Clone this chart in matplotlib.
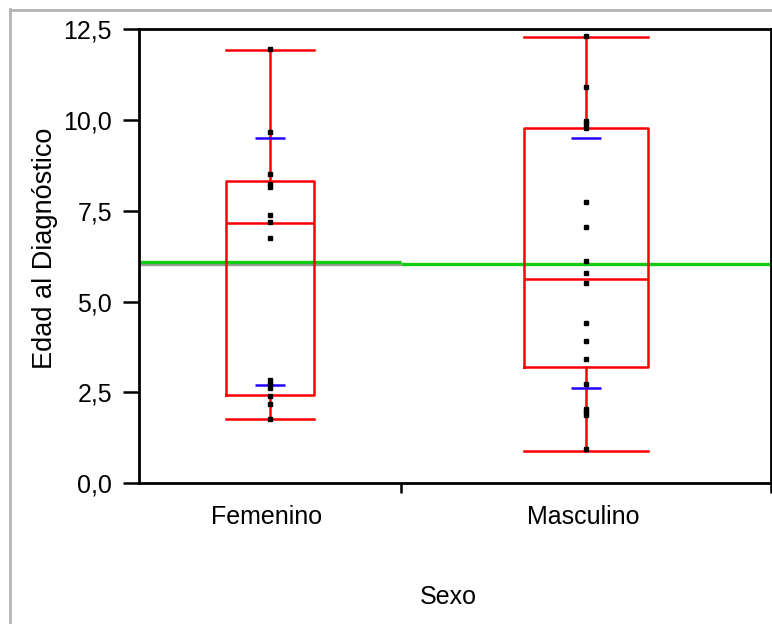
import matplotlib

matplotlib.use("Agg")
import matplotlib.pyplot as plt
from matplotlib.lines import Line2D

plt.rcParams["font.family"] = ["Liberation Sans", "DejaVu Sans"]

# valores
groups = ["Femenino", "Masculino"]
fem_values = [11.97, 9.67, 8.50, 8.25, 8.16, 7.38, 7.18, 6.75,
              2.84, 2.72, 2.61, 2.39, 2.17, 1.75]
masc_values = [12.32, 10.92, 9.97, 9.88, 9.79, 7.73, 7.04, 6.13, 5.78,
               5.51, 4.41, 3.92, 3.42, 2.73, 2.03, 1.95, 1.87, 0.93]
q1 = [2.42, 3.19]
medians = [7.16, 5.62]
q3 = [8.31, 9.78]
whisk_lo = [1.75, 0.89]
whisk_hi = [11.93, 12.28]
sd_upper = [9.51, 9.50]
sd_lower = [2.70, 2.62]
fem_mean = 6.10
grand_mean = 6.03
y_ticks = [0.0, 2.5, 5.0, 7.5, 10.0, 12.5]
y_tick_labels = ["0,0", "2,5", "5,0", "7,5", "10,0", "12,5"]

# layout: ancho de cada grupo en el eje x
group_span = [262, 370]
box_frac = 0.335
sd_width = 30

W, H = 772, 624
fig = plt.figure(figsize=(W / 100, H / 100), dpi=100)
ax = fig.add_axes([139 / W, 1 - 483 / H, 632 / W, (483 - 29.3) / H])

edges = [0, group_span[0], group_span[0] + group_span[1]]
centers = [(edges[i] + edges[i + 1]) / 2 for i in range(2)]
widths = [s * box_frac for s in group_span]

# lineas de media
ax.hlines(grand_mean, edges[0], edges[1], color="#9a9a9a", lw=2.4, zorder=1)
ax.hlines(grand_mean, edges[1], edges[2], color="#11cc11", lw=2.4, zorder=1)
ax.hlines(fem_mean, edges[0], edges[1], color="#11cc11", lw=2.4, zorder=1)

stats = []
for i in range(2):
    stats.append({"q1": q1[i], "med": medians[i], "q3": q3[i],
                  "whislo": whisk_lo[i], "whishi": whisk_hi[i], "fliers": []})
red = dict(color="#ff0000", linewidth=1.8)
ax.bxp(stats, positions=centers, widths=widths, capwidths=widths,
       boxprops=red, whiskerprops=red, capprops=red, medianprops=red,
       showfliers=False, manage_ticks=False, zorder=2)

for i in range(2):
    ax.hlines([sd_upper[i], sd_lower[i]], centers[i] - sd_width / 2,
              centers[i] + sd_width / 2, color="#2200ff", lw=1.8, zorder=3)

for i, vals in enumerate([fem_values, masc_values]):
    ax.plot([centers[i]] * len(vals), vals, ls="none", marker="s",
            ms=3.0, color="black", zorder=4)

ax.set_xlim(edges[0], edges[2])
ax.set_ylim(0, 12.5)
ax.set_yticks(y_ticks)
ax.set_yticklabels(y_tick_labels, fontsize=18)
ax.tick_params(axis="y", length=11.5, width=1.8, pad=8)
ax.set_xticks(edges[1:])
ax.set_xticklabels([])
ax.tick_params(axis="x", length=7.5, width=1.8)
for sp in ax.spines.values():
    sp.set_linewidth(2.0)

for i, g in enumerate(groups):
    ax.text(centers[i] - 3, -0.076, g, transform=ax.get_xaxis_transform(),
            ha="center", va="center", fontsize=18)

fig.text(448 / W, 1 - 597 / H, "Sexo", ha="center", va="center", fontsize=18)
fig.text(45 / W, 1 - 248 / H, "Edad al Diagnóstico", rotation=90,
         ha="center", va="center", fontsize=19.5)

# marco gris exterior
fig.add_artist(Line2D([10.2 / W, 10.2 / W], [0, 1 - 9 / H],
                      transform=fig.transFigure, color="#b4b4b4", lw=2))
fig.add_artist(Line2D([10 / W, 1], [1 - 9.5 / H, 1 - 9.5 / H],
                      transform=fig.transFigure, color="#b4b4b4", lw=2))

fig.savefig("out.png", dpi=100)
